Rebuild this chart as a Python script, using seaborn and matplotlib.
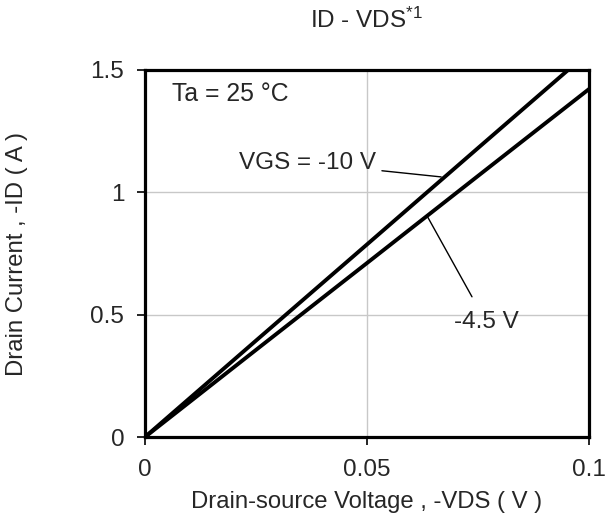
import matplotlib
matplotlib.use("Agg")
import matplotlib.pyplot as plt
import seaborn as sns
import pandas as pd

# ---- data ----
vds = [0.0, 0.025, 0.05, 0.075, 0.1]
id_vgs10 = [0.0, 0.394, 0.787, 1.181, 1.574]
id_vgs45 = [0.0, 0.356, 0.711, 1.067, 1.422]
series_labels = ["VGS = -10 V", "-4.5 V"]
xticks = [0, 0.05, 0.1]
xticklabels = ["0", "0.05", "0.1"]
yticks = [0, 0.5, 1.0, 1.5]
yticklabels = ["0", "0.5", "1", "1.5"]

df = pd.concat([
    pd.DataFrame({"vds": vds, "id": id_vgs10, "vgs": series_labels[0]}),
    pd.DataFrame({"vds": vds, "id": id_vgs45, "vgs": series_labels[1]}),
])

sns.set_style("white")
plt.rcParams["font.family"] = ["Liberation Sans", "DejaVu Sans"]
plt.rcParams["mathtext.fontset"] = "custom"
plt.rcParams["mathtext.rm"] = "Liberation Sans"
plt.rcParams["mathtext.it"] = "Liberation Sans"

fig = plt.figure(figsize=(6.06, 5.21), dpi=100)
ax = fig.add_axes([145 / 606, 1 - 437 / 521, 444 / 606, 367 / 521])

sns.lineplot(data=df, x="vds", y="id", hue="vgs", palette=["black", "black"],
             linewidth=2.8, legend=False, ax=ax, sort=True)

ax.set_xlim(0, 0.1)
ax.set_ylim(0, 1.5)
ax.set_xticks(xticks)
ax.set_xticklabels(xticklabels)
ax.set_yticks(yticks)
ax.set_yticklabels(yticklabels)
ax.tick_params(axis="both", labelsize=17.5, length=6, width=1.2, color="black",
               direction="out", bottom=True, left=True)
ax.tick_params(axis="x", pad=10)
ax.tick_params(axis="y", pad=9)
ax.grid(True, color="#c8c8c8", linewidth=1.0)
for s in ax.spines.values():
    s.set_linewidth(2.3)
    s.set_color("black")

ax.set_xlabel("Drain-source Voltage , -VDS ( V )", fontsize=17.2)
ax.set_ylabel("Drain Current , -ID ( A )", fontsize=17.2)
ax.xaxis.set_label_coords(0.5, -0.148)
ax.yaxis.set_label_coords(-0.2635, 0.5)

fig.text(367 / 606, 1 - 20 / 521, "ID - VDS$^{*1}$", fontsize=17.5,
         ha="center", va="center")

ax.text(0.0060, 1.400, "Ta = 25 °C", fontsize=17.8, ha="left", va="center")

# leader annotations
ax.annotate(series_labels[0], xy=(0.0667, 1.063), xytext=(0.0520, 1.120),
            fontsize=17.5, ha="right", va="center",
            arrowprops=dict(arrowstyle="-", color="black", lw=1.0,
                            shrinkA=2, shrinkB=0))
ax.annotate(series_labels[1], xy=(0.0637, 0.898), xytext=(0.0768, 0.470),
            fontsize=17.5, ha="center", va="center",
            arrowprops=dict(arrowstyle="-", color="black", lw=1.0,
                            shrinkA=9, shrinkB=0))

fig.savefig("out.png", dpi=100)
